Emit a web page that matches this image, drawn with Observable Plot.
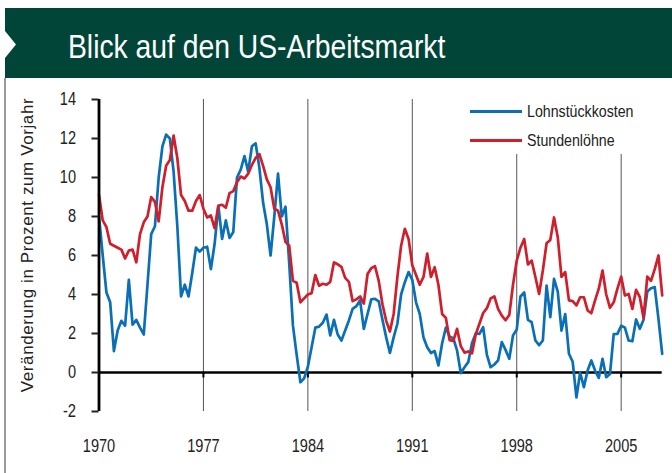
<!DOCTYPE html>
<html>
<head>
<meta charset="utf-8">
<script src="https://cdn.jsdelivr.net/npm/d3@7"></script>
<script src="https://cdn.jsdelivr.net/npm/@observablehq/plot@0.6"></script>
<style>
  html, body { margin: 0; padding: 0; background: #fff; }
  #wrap { position: relative; width: 672px; height: 473px; overflow: hidden; background: #fff; }
  #banner { position: absolute; left: 5px; top: 8px; width: 667px; height: 70px; background: #004538; }
  #notch { position: absolute; left: 5px; top: 31px; width: 11px; height: 27px; background: #fff;
           clip-path: polygon(0 0, 100% 50%, 0 100%); }
  #title { position: absolute; left: 68px; top: 29px; font: 34px/34px "Liberation Sans", Arial, sans-serif;
           color: #fff; white-space: nowrap; transform: scaleX(0.832); transform-origin: 0 0; }
  #leftline { position: absolute; left: 4px; top: 78px; width: 2px; height: 395px; background: #9a9a9a; }
  #chart { position: absolute; left: 0; top: 78px; }
  #ytitle { position: absolute; left: 28px; top: 245px; transform: translate(-50%, -50%) rotate(-90deg);
            white-space: nowrap; font: 17px "Liberation Sans", Arial, sans-serif; letter-spacing: 0.6px; color: #222; }
  #legend { position: absolute; left: 462px; top: 96px; width: 195px; height: 58px; background: #fff; }
  .lg { position: absolute; left: 8px; height: 20px; display: flex; align-items: center;
        font: 16.5px "Liberation Sans", Arial, sans-serif; color: #222; white-space: nowrap; }
  .lg span.sw { display: inline-block; width: 52px; height: 3px; margin-right: 5px; flex: none; }
  .lg span.tx { display: inline-block; transform: scaleX(0.86); transform-origin: 0 50%; }
</style>
</head>
<body>
<div id="wrap">
  <div id="banner"></div>
  <div id="notch"></div>
  <div id="title">Blick auf den US-Arbeitsmarkt</div>
  <div id="leftline"></div>
  <div id="chart"></div>
  <div id="ytitle">Veränderung in Prozent zum Vorjahr</div>
  <div id="legend"></div>
</div>
<script>
// Quarterly values, 1970 Q1 – 2007 Q4 (change vs. previous year, %)
const startYear = 1970;
const seriesNames = ["Lohnstückkosten", "Stundenlöhne"];
const seriesColors = ["#0a6fb6", "#d01f2c"];
const xTicks = [1970, 1977, 1984, 1991, 1998, 2005];
const yTicks = [-2, 0, 2, 4, 6, 8, 10, 12, 14];

const lohnstueckkosten = [
  8.0, 6.0, 4.1, 3.6, 1.1, 2.15, 2.65, 2.4, 4.75, 2.45, 2.7, 2.3, 1.95, 4.5, 7.1, 7.5,
  10.0, 11.6, 12.2, 12.0, 10.3, 7.5, 3.9, 4.5, 3.9, 5.1, 6.4, 6.2, 6.4, 6.45, 5.3, 6.6,
  8.55, 6.85, 7.8, 6.9, 7.2, 10.0, 10.4, 11.1, 10.3, 11.6, 11.75, 10.5, 8.7, 7.6, 6.0, 8.0,
  10.2, 8.0, 8.5, 5.6, 2.4, 0.9, -0.5, -0.3, 0.3, 1.3, 2.3, 2.35, 2.55, 2.97, 1.9, 2.7,
  1.95, 1.64, 2.15, 2.67, 3.26, 3.4, 3.7, 2.24, 3.0, 3.75, 3.78, 3.65, 2.7, 1.8, 1.0, 1.8,
  2.5, 4.0, 4.63, 5.15, 4.75, 3.6, 3.0, 1.8, 1.3, 1.0, 1.1, 0.36, 1.5, 2.3, 1.85, 1.75,
  1.13, -0.03, 0.27, 0.53, 1.5, 2.0, 1.98, 2.32, 0.9, 0.27, 0.41, 0.62, 1.56, 1.16, 0.7, 1.9,
  2.2, 3.9, 4.1, 2.7, 2.58, 1.64, 1.4, 1.64, 4.46, 2.84, 4.8, 4.15, 2.15, 3.0, 0.96, 0.55,
  -1.28, 0.0, -0.75, 0.1, 0.62, 0.1, -0.28, 0.7, -0.24, -0.08, 1.97, 1.98, 2.4, 2.3, 1.64, 1.6,
  2.72, 2.24, 2.7, 4.15, 4.32, 4.38, 2.75, 0.96
];

const stundenloehne = [
  9.1, 7.8, 7.45, 6.6, 6.5, 6.4, 6.3, 5.85, 6.25, 6.3, 5.65, 7.1, 7.7, 8.0, 9.0, 8.75,
  7.75, 9.5, 10.6, 10.9, 12.15, 11.0, 9.1, 8.8, 8.3, 8.3, 8.8, 9.1, 8.4, 7.95, 8.05, 7.4,
  8.55, 8.6, 8.45, 9.2, 9.3, 9.75, 10.05, 9.95, 10.2, 10.65, 11.0, 11.2, 10.6, 9.9, 9.5, 8.4,
  8.3, 7.6, 6.7, 6.5, 4.7, 4.6, 3.6, 3.8, 4.0, 4.07, 5.0, 4.45, 4.55, 4.5, 4.65, 5.65,
  5.55, 5.42, 4.85, 4.65, 3.66, 3.75, 3.9, 3.53, 5.05, 5.35, 5.45, 4.7, 3.5, 2.65, 2.1, 3.0,
  4.9, 6.5, 7.37, 6.85, 5.5, 5.0, 4.5, 4.9, 6.1, 4.9, 5.4, 4.5, 3.0, 2.8, 1.66, 1.62,
  2.24, 1.35, 1.02, 1.08, 0.98, 1.95, 2.5, 3.05, 3.3, 3.8, 3.9, 3.26, 2.92, 2.68, 2.95, 4.5,
  5.74, 6.4, 6.85, 5.54, 5.74, 4.9, 4.03, 5.23, 6.63, 6.8, 7.95, 6.94, 4.9, 5.15, 3.7, 3.66,
  3.44, 3.86, 3.86, 3.18, 3.04, 3.7, 4.3, 5.23, 4.0, 3.32, 3.6, 4.3, 4.92, 3.95, 4.03, 3.26,
  4.24, 3.86, 2.8, 4.92, 4.7, 5.3, 6.0, 3.95
];

const rows = [];
[lohnstueckkosten, stundenloehne].forEach((arr, k) => {
  arr.forEach((v, i) => rows.push({ t: startYear + i / 4, v, s: seriesNames[k] }));
});
const lastT = startYear + (lohnstueckkosten.length - 1) / 4;

const chart = Plot.plot({
  width: 672,
  height: 395,
  marginLeft: 98.5,
  marginRight: 10.3,
  marginTop: 21,
  marginBottom: 62,
  style: { fontFamily: '"Liberation Sans", Arial, sans-serif', fontSize: "17.5px", color: "#222", background: "transparent" },
  x: { domain: [startYear, lastT] },
  y: { domain: [yTicks[0], yTicks[yTicks.length - 1]] },
  color: { domain: seriesNames, range: seriesColors },
  marks: [
    Plot.ruleX(xTicks.slice(1), { y1: yTicks[0], y2: yTicks[yTicks.length - 1], stroke: "#555", strokeWidth: 1 }),
    Plot.ruleX(xTicks, { y1: 0, y2: -0.28, stroke: "#000", strokeWidth: 2 }),
    Plot.ruleY([0], { stroke: "#000", strokeWidth: 2.6 }),
    Plot.line(rows, { x: "t", y: "v", stroke: "s", z: "s", strokeWidth: 2.7, strokeLinejoin: "round" }),
    Plot.ruleX([startYear], { y1: yTicks[0], y2: yTicks[yTicks.length - 1], stroke: "#000", strokeWidth: 2.8 }),
    Plot.axisY({ ticks: yTicks, tickSize: 7, tickPadding: 16, strokeWidth: 2, label: null, tickFormat: d => String(d) }),
    Plot.axisX({ ticks: xTicks, tickSize: 0, tickPadding: 28, label: null, tickFormat: d => String(d) })
  ]
});

// condense tick labels to match the narrow typeface of the original
chart.querySelectorAll('g[aria-label="x-axis tick label"] text, g[aria-label="y-axis tick label"] text').forEach(t => {
  const s = t.textContent;
  let w = 0;
  for (const ch of s) w += (ch === "-" ? 5 : 8.1);
  t.setAttribute("textLength", w);
  t.setAttribute("lengthAdjust", "spacingAndGlyphs");
});
document.getElementById("chart").appendChild(chart);

const legend = document.getElementById("legend");
seriesNames.forEach((name, i) => {
  const row = document.createElement("div");
  row.className = "lg";
  row.style.top = (5 + i * 29) + "px";
  const sw = document.createElement("span");
  sw.className = "sw";
  sw.style.background = seriesColors[i];
  const tx = document.createElement("span");
  tx.className = "tx";
  tx.textContent = name;
  row.appendChild(sw);
  row.appendChild(tx);
  legend.appendChild(row);
});
</script>
</body>
</html>
